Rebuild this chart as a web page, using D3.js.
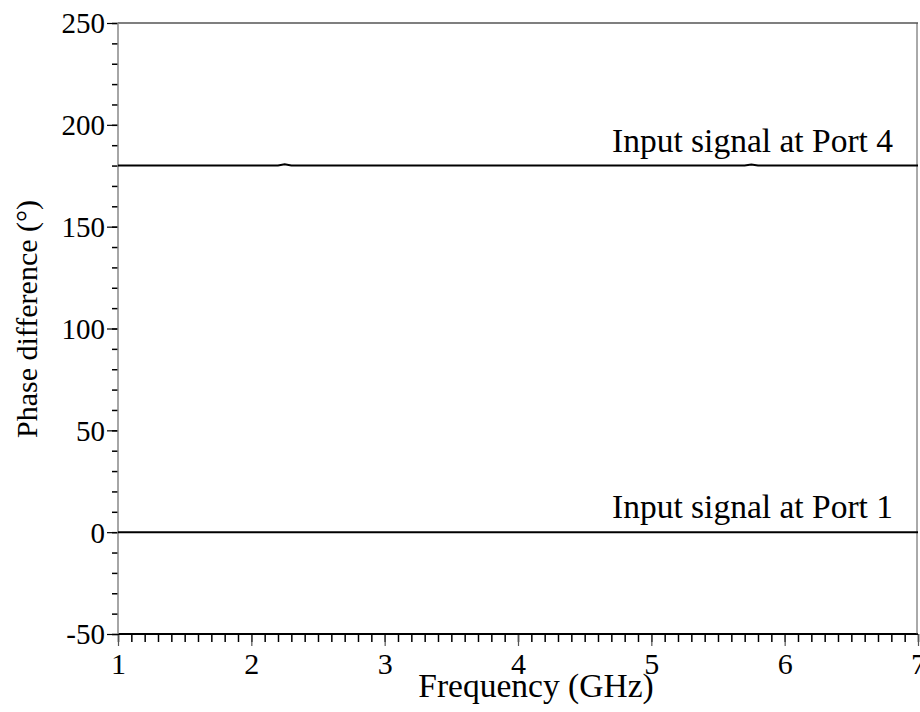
<!DOCTYPE html>
<html>
<head>
<meta charset="utf-8">
<title>Phase difference</title>
<style>
    body { margin: 0; background: #fff; }
    text { font-family: "Liberation Serif", "Times New Roman", serif; fill: #000; }
</style>
</head>
<body>
<svg width="920" height="712" id="mainsvg"></svg>
<script src="https://d3js.org/d3.v7.min.js"></script>
<script>
// frequency points (GHz) and phase difference (deg)
const freq = [1, 1.5, 2, 2.2, 2.25, 2.3, 2.5, 3, 3.5, 4, 4.5, 5, 5.5, 5.7, 5.75, 5.8, 6, 6.5, 7];
const phasePort4 = [180, 180, 180, 180, 180.6, 180, 180, 180, 180, 180, 180, 180, 180, 180, 180.5, 180, 180, 180, 180];
const phasePort1 = [0, 0, 0, 0, 0, 0, 0, 0, 0, 0, 0, 0, 0, 0, 0, 0, 0, 0, 0];
const seriesLabels = ['Input signal at Port 4', 'Input signal at Port 1'];
const xTicks = [1, 2, 3, 4, 5, 6, 7];
const yTicks = [-50, 0, 50, 100, 150, 200, 250];

const svg = d3.select('#mainsvg');
const margin = { top: 23, right: 2, bottom: 78, left: 118 };
const innerWidth = 920 - margin.left - margin.right;
const innerHeight = 712 - margin.top - margin.bottom;

const g = svg.append('g')
    .attr('transform', `translate(${margin.left}, ${margin.top})`);

const xScale = d3.scaleLinear().domain([1, 7]).range([0, innerWidth]);
const yScale = d3.scaleLinear().domain([-50, 250]).range([innerHeight, 0]);

// minor ticks first, then major ones on top
const xMinor = d3.range(10, 71).map(d => d / 10);
const yMinor = d3.range(-50, 251, 10);

const xm = g.append('g').attr('transform', `translate(0, ${innerHeight})`)
    .call(d3.axisBottom(xScale).tickValues(xMinor).tickSize(8).tickFormat(''));
xm.select('.domain').remove();
xm.selectAll('text').remove();
xm.selectAll('line').attr('stroke', '#000').attr('stroke-width', 1.5);

const ym = g.append('g')
    .call(d3.axisLeft(yScale).tickValues(yMinor).tickSize(6).tickFormat(''));
ym.select('.domain').remove();
ym.selectAll('text').remove();
ym.selectAll('line').attr('stroke', '#000').attr('stroke-width', 1.5);

const xAxis = g.append('g').attr('transform', `translate(0, ${innerHeight})`)
    .call(d3.axisBottom(xScale).tickValues(xTicks).tickSize(12).tickPadding(0).tickFormat(d => String(d)));
xAxis.select('.domain').remove();
xAxis.selectAll('line').attr('stroke', '#555').attr('stroke-width', 1.2);
xAxis.selectAll('text').attr('font-size', 30).attr('fill', '#000')
    .attr('y', 40).attr('dy', null);

const yAxis = g.append('g')
    .call(d3.axisLeft(yScale).tickValues(yTicks).tickSize(11).tickPadding(2).tickFormat(d => String(d)));
yAxis.select('.domain').remove();
yAxis.selectAll('line').attr('stroke', '#000').attr('stroke-width', 1.2);
yAxis.selectAll('text').attr('font-size', 29).attr('fill', '#000')
    .attr('dy', '0.34em');

// frame
g.append('line').attr('x1', 0).attr('x2', innerWidth).attr('y1', 0).attr('y2', 0)
    .attr('stroke', '#000').attr('stroke-width', 1.2);
g.append('line').attr('x1', 0).attr('x2', innerWidth).attr('y1', innerHeight).attr('y2', innerHeight)
    .attr('stroke', '#000').attr('stroke-width', 2);
g.append('line').attr('x1', 0).attr('x2', 0).attr('y1', 0).attr('y2', innerHeight)
    .attr('stroke', '#888').attr('stroke-width', 1.5);
g.append('line').attr('x1', innerWidth - 1).attr('x2', innerWidth - 1).attr('y1', 0).attr('y2', innerHeight)
    .attr('stroke', '#555').attr('stroke-width', 1);

const line = d3.line().x(d => xScale(d[0])).y(d => yScale(d[1]));

[phasePort4, phasePort1].forEach((vals, i) => {
    g.append('path')
        .datum(freq.map((f, k) => [f, vals[k]]))
        .attr('fill', 'none')
        .attr('stroke', '#000')
        .attr('stroke-width', 2)
        .attr('d', line);
    g.append('text')
        .attr('x', innerWidth - 25)
        .attr('y', yScale(vals[vals.length - 1]) - 14)
        .attr('text-anchor', 'end')
        .attr('font-size', 33.5)
        .text(seriesLabels[i]);
});

// axis titles
svg.append('text')
    .attr('x', 536).attr('y', 697)
    .attr('text-anchor', 'middle')
    .attr('font-size', 33.5)
    .text('Frequency (GHz)');

svg.append('text')
    .attr('transform', 'translate(37, 319) rotate(-90)')
    .attr('text-anchor', 'middle')
    .attr('font-size', 30)
    .text('Phase difference (°)');
</script>
</body>
</html>
